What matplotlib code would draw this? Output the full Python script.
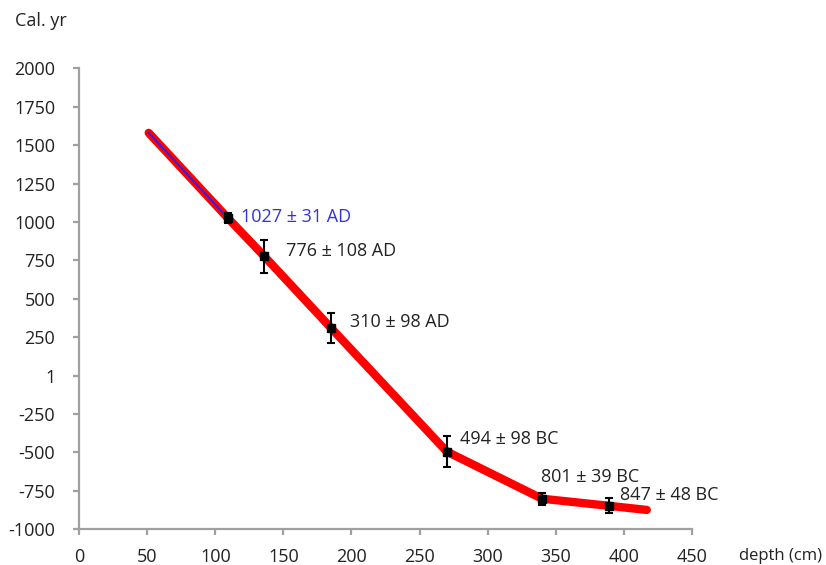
import matplotlib
matplotlib.use("Agg")
import matplotlib.pyplot as plt

# Age-depth model line
line_depth = [51, 109, 136, 185, 270, 340, 389, 417]
line_age = [1580, 1027, 776, 310, -494, -801, -847, -874]

# Upper blue segment
blue_depth = [51, 109]
blue_age = [1580, 1027]

# Dated samples
sample_depth = [109, 136, 185, 270, 340, 389]
sample_age = [1027, 776, 310, -494, -801, -847]
sample_err = [31, 108, 98, 98, 39, 48]
sample_labels = ["1027 ± 31 AD", "776 ± 108 AD", "310 ± 98 AD",
                 "494 ± 98 BC", "801 ± 39 BC", "847 ± 48 BC"]
label_colors = ["#3333dd", "#222222", "#222222", "#222222", "#222222", "#222222"]
label_x = [119, 152, 199, 280, 339, 397]
label_y = [1035, 811, 349, -412, -657, -776]

yticks = [2000, 1750, 1500, 1250, 1000, 750, 500, 250, 0, -250, -500, -750, -1000]
ytick_labels = ["2000", "1750", "1500", "1250", "1000", "750", "500", "250", "1",
                "-250", "-500", "-750", "-1000"]
xticks = [0, 50, 100, 150, 200, 250, 300, 350, 400, 450]

plt.rcParams['font.family'] = ['Open Sans', 'DejaVu Sans']

fig = plt.figure(figsize=(8.26, 5.65), dpi=100)
ax = fig.add_axes([0.096, 0.0632, 0.7414, 0.8159])

ax.plot(line_depth, line_age, color="#ff0000", lw=6, solid_capstyle="round", zorder=2)
ax.plot(blue_depth, blue_age, color="#2222ff", lw=1.3, zorder=3)
ax.errorbar(sample_depth, sample_age, yerr=sample_err, fmt="s", color="black",
            ms=6, elinewidth=1.5, capsize=2.8, capthick=1.5, zorder=4)

for px, py, lab, c in zip(label_x, label_y, sample_labels, label_colors):
    ax.text(px, py, lab, color=c, fontsize=13, va="center", ha="left", zorder=5)

ax.set_xlim(0, 450)
ax.set_ylim(-1000, 2000)
ax.set_xticks(xticks)
ax.set_yticks(yticks)
ax.set_yticklabels(ytick_labels)

for s in ["top", "right"]:
    ax.spines[s].set_visible(False)
for s in ["left", "bottom"]:
    ax.spines[s].set_color("#a0a0a0")
    ax.spines[s].set_linewidth(1.6)
ax.tick_params(axis="both", colors="#a0a0a0", width=1.6, length=4.3, labelsize=13,
               labelcolor="#222222", direction="out")
ax.tick_params(axis="y", pad=13)
ax.tick_params(axis="x", pad=9)

fig.text(15 / 826, 1 - 21 / 565, "Cal. yr", fontsize=13, color="#222222", va="center", ha="left")
fig.text(739 / 826, 1 - 556 / 565, "depth (cm)", fontsize=12, color="#222222", va="center", ha="left")

fig.savefig("out.png", dpi=100)
